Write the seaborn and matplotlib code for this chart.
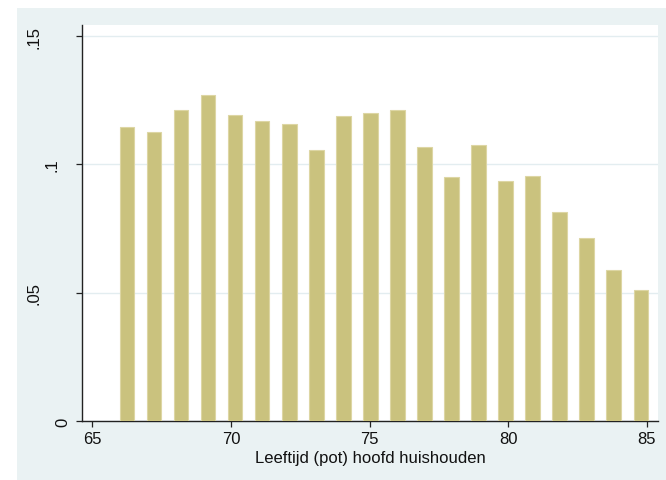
import numpy as np
import pandas as pd
import matplotlib
matplotlib.use("Agg")
import matplotlib.pyplot as plt
from matplotlib.patches import Rectangle
import seaborn as sns

# Age of (potential) head of household and share per age
ages = [66, 67, 68, 69, 70, 71, 72, 73, 74, 75,
        76, 77, 78, 79, 80, 81, 82, 83, 84, 85]
shares = [0.1146, 0.1125, 0.1212, 0.1270, 0.1194, 0.1170, 0.1157, 0.1054, 0.1190, 0.1199,
          0.1211, 0.1069, 0.0950, 0.1077, 0.0936, 0.0953, 0.0813, 0.0712, 0.0588, 0.0512]

x_ticks = [65, 70, 75, 80, 85]
y_ticks = [0, 0.05, 0.10, 0.15]
y_tick_labels = ["0", ".05", ".1", ".15"]
x_title = "Leeftijd (pot) hoofd huishouden"

sns.set_theme(style="white")
plt.rcParams["font.family"] = ["Liberation Sans", "DejaVu Sans"]

W, H = 666, 481
FS = 12
fig = plt.figure(figsize=(W / 100, H / 100), dpi=100, facecolor="white")

# graph region background
fig.add_artist(Rectangle((17 / W, 0), 1 - 17 / W, (H - 9) / H,
                         transform=fig.transFigure, facecolor="#eaf2f3",
                         edgecolor="none", zorder=-10))

ax = fig.add_axes([82 / W, (H - 422) / H, (658 - 82) / W, (422 - 26) / H])
ax.set_facecolor("white")

# bins of the age axis: each bar starts at its bin's left edge
bin_step = 0.975
bar_frac = 0.53
lefts = 66 + (np.array(ages) - 66) * bin_step
centers = lefts + bar_frac * bin_step / 2
df = pd.DataFrame({"pos": centers, "share": shares})

sns.barplot(data=df, x="pos", y="share", native_scale=True, orient="x",
            width=bar_frac, color="#cac27e", saturation=1,
            edgecolor="#ddd6a4", linewidth=0.8, errorbar=None, ax=ax, zorder=3)

ax.set_xlim(64.628, 85.408)
ax.set_ylim(0, 0.1543)

ax.set_xticks(x_ticks)
ax.set_xticklabels([str(t) for t in x_ticks], fontsize=FS, color="#111111")
ax.set_yticks(y_ticks)
ax.set_yticklabels(y_tick_labels, fontsize=FS, color="#111111",
                   rotation=90, va="center", ha="center")
ax.set_xlabel(x_title, fontsize=FS, color="#111111", labelpad=2.5)
ax.set_ylabel("")

ax.grid(axis="y", color="#e3edf0", linewidth=1.0, zorder=0)
ax.grid(axis="x", visible=False)
ax.set_axisbelow(True)

for side in ["top", "right"]:
    ax.spines[side].set_visible(False)
for side in ["left", "bottom"]:
    ax.spines[side].set_color("#222222")
    ax.spines[side].set_linewidth(1.0)

ax.tick_params(axis="x", direction="out", length=4.5, width=0.9,
               color="#222222", pad=3, bottom=True)
ax.tick_params(axis="y", direction="out", length=4.5, width=0.9,
               color="#222222", pad=0, left=True)

# y labels sit in the left margin, shorter ones closer to the axis
label_x = {"0": -0.0218, ".05": -0.0732, ".1": -0.0408, ".15": -0.0732}
for lab in ax.get_yticklabels():
    lab.set_x(label_x[lab.get_text()])

fig.savefig("out.png", dpi=100, facecolor=fig.get_facecolor())
